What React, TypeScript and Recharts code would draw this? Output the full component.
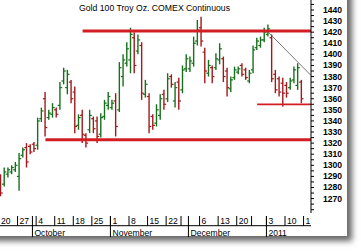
import React from 'react';
import { ComposedChart, Bar, XAxis, YAxis, ReferenceLine } from 'recharts';

const title = 'Gold 100 Troy Oz. COMEX Continuous';

const dates = [
  '2010-09-20','2010-09-21','2010-09-22','2010-09-23','2010-09-24','2010-09-27','2010-09-28','2010-09-29','2010-09-30',
  '2010-10-01','2010-10-04','2010-10-05','2010-10-06','2010-10-07','2010-10-08','2010-10-11','2010-10-12','2010-10-13','2010-10-14','2010-10-15',
  '2010-10-18','2010-10-19','2010-10-20','2010-10-21','2010-10-22','2010-10-25','2010-10-26','2010-10-27','2010-10-28','2010-10-29',
  '2010-11-01','2010-11-02','2010-11-03','2010-11-04','2010-11-05','2010-11-08','2010-11-09','2010-11-10','2010-11-11','2010-11-12',
  '2010-11-15','2010-11-16','2010-11-17','2010-11-18','2010-11-19','2010-11-22','2010-11-23','2010-11-24','2010-11-26','2010-11-29','2010-11-30',
  '2010-12-01','2010-12-02','2010-12-03','2010-12-06','2010-12-07','2010-12-08','2010-12-09','2010-12-10','2010-12-13','2010-12-14','2010-12-15',
  '2010-12-16','2010-12-17','2010-12-20','2010-12-21','2010-12-22','2010-12-23','2010-12-27','2010-12-28','2010-12-29','2010-12-30',
  '2011-01-03','2011-01-04','2011-01-05','2011-01-06','2011-01-07','2011-01-10','2011-01-11','2011-01-12','2011-01-13','2011-01-14',
];

const highs = [
  1292,1298,1298,1300,1303,1311,1316,1320,1319,1321,1343,1352,1366,1350,1356,1352,1375,1388,1386,1377,
  1371,1346,1350,1329,1350,1344,1344,1347,1359,1366,1359,1365,1393,1400,1411,1424,1420,1418,1411,1377,
  1365,1346,1355,1364,1368,1383,1382,1375,1379,1390,1400,1398,1416,1431,1434,1406,1395,1390,1401,1410,
  1398,1388,1380,1389,1389,1392,1388,1386,1408,1415,1416,1424,1427,1418,1386,1380,1379,1375,1379,1389,
  1392,1377,
];
const lows = [
  1272,1281,1289,1292,1294,1277,1307,1298,1310,1312,1314,1339,1326,1341,1343,1343,1350,1373,1364,1356,
  1329,1332,1320,1316,1329,1329,1320,1325,1341,1350,1350,1326,1348,1371,1389,1383,1383,1400,1359,1361,
  1329,1332,1335,1341,1350,1357,1370,1352,1350,1365,1384,1384,1389,1408,1407,1374,1380,1374,1386,1391,
  1375,1362,1366,1377,1382,1380,1377,1374,1383,1404,1406,1411,1416,1375,1365,1362,1353,1361,1368,1374,
  1368,1356,
];
const opens = [
  1290,1283,1292,1294,1296,1290,1309,1316,1317,1319,1318,1342,1360,1343,1346,1350,1354,1376,1370,1375,
  1366,1336,1345,1327,1332,1342,1340,1328,1344,1354,1352,1358,1350,1380,1392,1395,1415,1403,1408,1364,
  1362,1344,1338,1345,1364,1360,1380,1358,1375,1368,1387,1387,1392,1412,1424,1402,1383,1388,1388,1395,
  1396,1385,1369,1379,1384,1390,1386,1376,1386,1406,1408,1413,1418,1415,1382,1378,1374,1372,1370,1377,
  1372,1375,
];
const closes = [
  1275,1294,1296,1298,1300,1306,1314,1303,1312,1315,1340,1349,1334,1347,1352,1346,1370,1385,1382,1360,
  1335,1343,1328,1320,1345,1333,1326,1343,1356,1362,1356,1335,1388,1395,1405,1418,1390,1413,1365,1373,
  1335,1336,1350,1360,1355,1378,1373,1370,1358,1386,1396,1394,1410,1422,1412,1385,1390,1380,1396,1405,
  1380,1370,1377,1386,1387,1382,1379,1383,1404,1412,1413,1420,1423,1378,1368,1366,1365,1365,1376,1386,
  1388,1360,
];

// x-axis: Monday ticks (trading-day index) and their labels
const weekIdx = [0,5,10,15,20,25,30,35,40,45,49,54,59,64,68,72,77,82];
const weekLabels = ['20','27','4','11','18','25','1','8','15','22','','6','13','20','','3','10','17'];
// month separators
const monthIdx = [9,30,51,72];
const monthLabels = ['October','November','December','2011'];

// y ticks
const yTicks = [
  1260,1265,1270,1275,1280,1285,1290,1295,1300,1305,1310,1315,1320,1325,1330,1335,1340,1345,1350,1355,
  1360,1365,1370,1375,1380,1385,1390,1395,1400,1405,1410,1415,1420,1425,1430,1435,1440,1445,
];

// annotation lines: level, starting bar index
const hLevels = [1421, 1323, 1355];
const hStarts = [22, 12, 69];
const hWidths = [3, 3, 1.8];
const trendFrom = { i: 72, v: 1420 };
const trendTo = { i: 83.5, v: 1381 };

const GREEN = '#17701c';
const RED = '#a3181b';
const LINE_RED = '#d21e22';
const X_MIN = -0.5;
const X_MAX = 83.5;

const rows = dates.map((d, i) => ({ i, d, o: opens[i], h: highs[i], l: lows[i], c: closes[i] }));

const xTickVals = Array.from(new Set([...weekIdx, ...monthIdx])).sort((a, b) => a - b).map((v) => v - 0.5);

const FONT = '"Liberation Sans", Arial, sans-serif';

const OHLC = (props: any) => {
  const { x, y, width, height, payload } = props;
  if (!payload || x == null || y == null || height == null) return null;
  const cx = x + width / 2;
  const top = Math.min(y, y + height);
  const bot = Math.max(y, y + height);
  const { o, h, l, c } = payload;
  const span = h - l || 1;
  const py = (v: number) => top + ((h - v) / span) * (bot - top);
  const col = c >= o ? GREEN : RED;
  return (
    <g>
      <line x1={cx} x2={cx} y1={top} y2={bot} stroke={col} strokeWidth={1.4} />
      <line x1={cx - 2.2} x2={cx} y1={py(o)} y2={py(o)} stroke={col} strokeWidth={1.2} />
      <line x1={cx} x2={cx + 2.2} y1={py(c)} y2={py(c)} stroke={col} strokeWidth={1.2} />
    </g>
  );
};

const XTick = (props: any) => {
  const { x, y, payload, index } = props;
  const v = Math.round(payload.value + 0.5);
  const wi = weekIdx.indexOf(v);
  const mi = monthIdx.indexOf(v);
  return (
    <g>
      {index === 0 && (
        <>
          <defs>
            <clipPath id="xclip">
              <rect x={0} y={0} width={312} height={252} />
            </clipPath>
          </defs>
          <line x1={0} x2={312} y1={y + 12.7} y2={y + 12.7} stroke="#000" strokeWidth={1} />
        </>
      )}
      {mi >= 0 && <line x1={x} x2={x} y1={y + 3} y2={y + 24} stroke="#000" strokeWidth={1} />}
      {mi >= 0 && (
        <text x={x + 2} y={y + 23} fontSize={8.6} fontFamily={FONT} fill="#000">
          {monthLabels[mi]}
        </text>
      )}
      {wi >= 0 && <line x1={x} x2={x} y1={y + 3} y2={y + 12.7} stroke="#000" strokeWidth={1} />}
      {wi >= 0 && weekLabels[wi] !== '' && (
        <text x={x + 2} y={y + 10.5} fontSize={8.6} fontFamily={FONT} fill="#000" clipPath="url(#xclip)">
          {weekLabels[wi]}
        </text>
      )}
    </g>
  );
};

const YTick = (props: any) => {
  const { x, y, payload } = props;
  const v = payload.value;
  const show = v % 10 === 0 && v >= 1270 && v <= 1440;
  if (!show) return <g />;
  return (
    <text x={x + 7} y={y + 3} fontSize={8.6} fontWeight="bold" fontFamily={FONT} fill="#000">
      {v}
    </text>
  );
};

export default function App() {
  return (
    <div style={{ position: 'absolute', left: 0, top: 0, width: 361, height: 252, overflow: 'hidden', background: '#fff' }}>
      <div
        style={{
          position: 'absolute',
          left: -20,
          top: -20,
          width: 367,
          height: 256,
          background: '#fff',
          boxShadow: '5px 5px 6px rgba(0,0,0,0.6)',
        }}
      />
      <div style={{ position: 'absolute', left: -1, top: 0 }}>
        <ComposedChart width={362} height={252} data={rows} margin={{ top: 0, right: 0, bottom: 0, left: 0 }}>
          <XAxis
            dataKey="i"
            type="number"
            domain={[X_MIN, X_MAX]}
            allowDataOverflow
            ticks={xTickVals}
            interval={0}
            height={39}
            axisLine={false}
            tickLine={false}
            tickSize={0}
            tickMargin={0}
            tick={<XTick />}
          />
          <YAxis
            orientation="right"
            width={50}
            domain={[1257, 1449]}
            allowDataOverflow
            ticks={yTicks}
            interval={0}
            axisLine={{ stroke: '#000', strokeWidth: 1 }}
            tickLine={{ stroke: '#000', strokeWidth: 1 }}
            tickSize={3}
            tick={<YTick />}
          />
          <Bar dataKey={(r: any) => [r.l, r.h]} barSize={3} shape={<OHLC />} isAnimationActive={false} />
          {hLevels.map((lv, k) => (
            <ReferenceLine
              key={k}
              segment={[
                { x: hStarts[k], y: lv },
                { x: X_MAX, y: lv },
              ]}
              stroke={LINE_RED}
              strokeWidth={hWidths[k]}
            />
          ))}
          <ReferenceLine
            segment={[
              { x: trendFrom.i, y: trendFrom.v },
              { x: trendTo.i, y: trendTo.v },
            ]}
            stroke="#555"
            strokeWidth={0.8}
          />
          <text
            x={155.5}
            y={10.5}
            textAnchor="middle"
            fontSize={9.2}
            fontFamily={FONT}
            fill="#000"
            textLength={151}
            lengthAdjust="spacingAndGlyphs"
          >
            {title}
          </text>
        </ComposedChart>
      </div>
    </div>
  );
}
